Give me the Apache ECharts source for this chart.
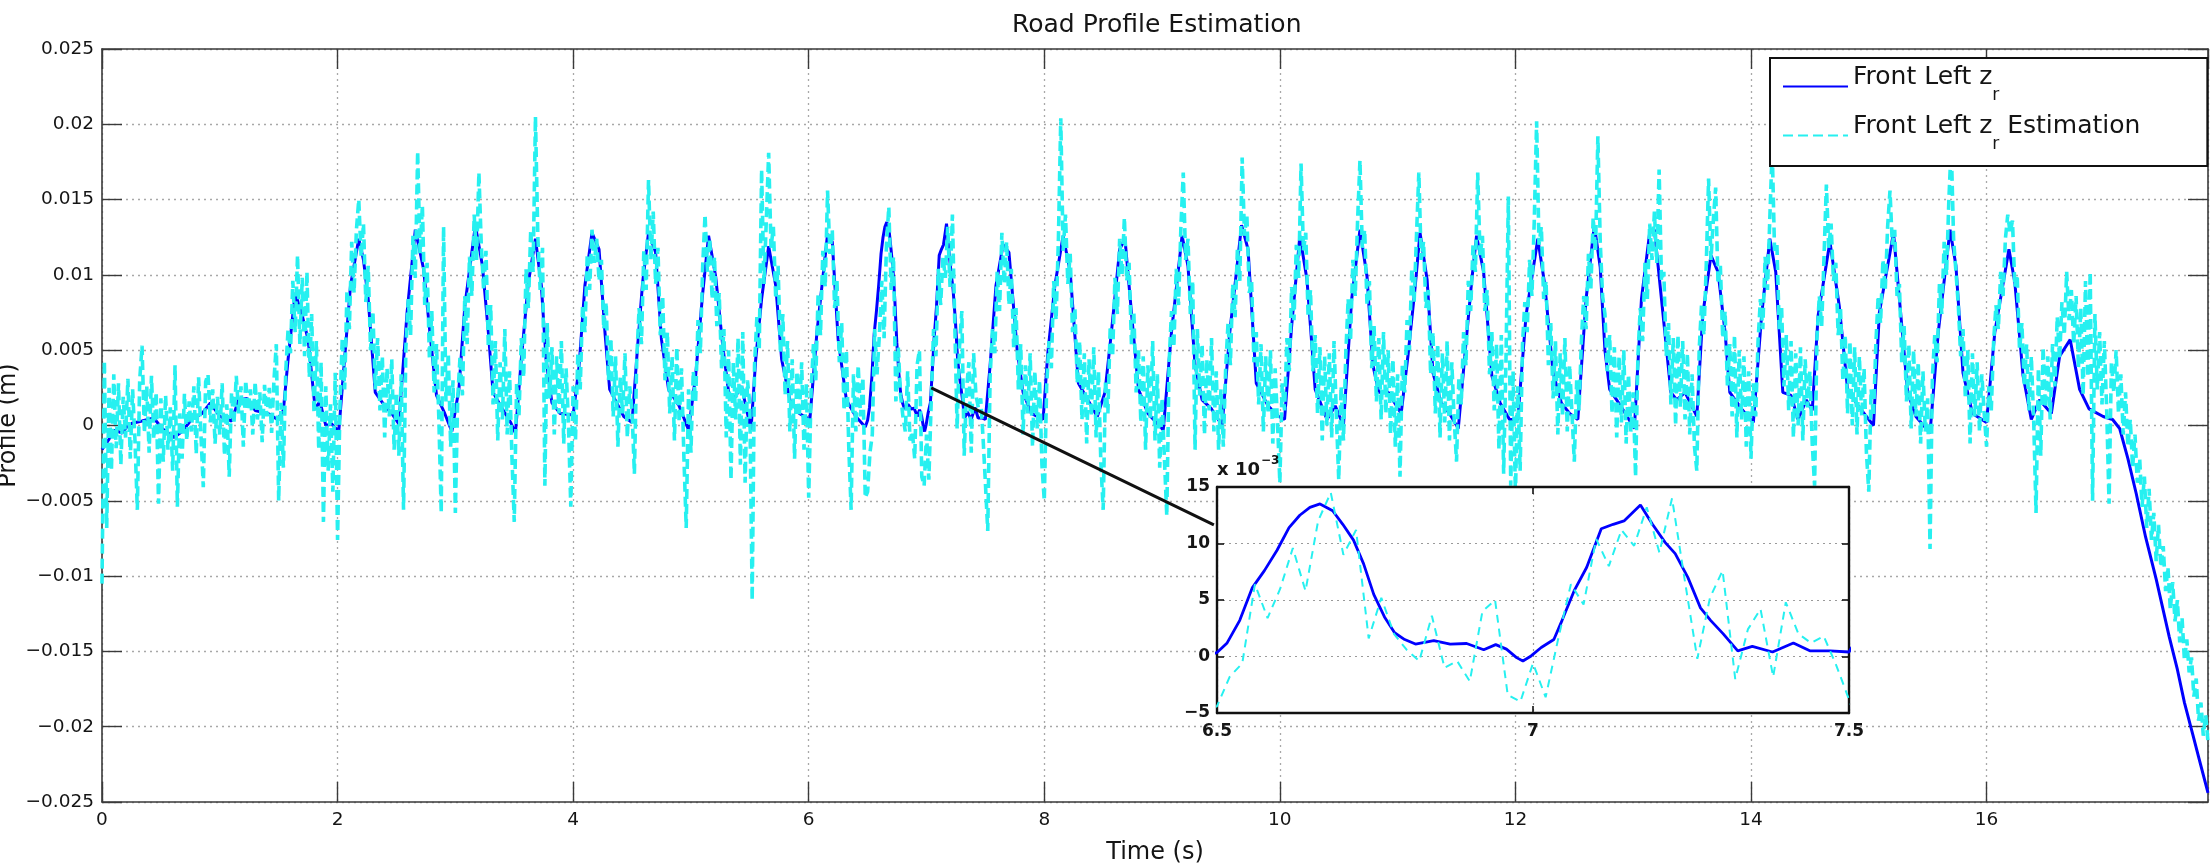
<!DOCTYPE html>
<html>
<head>
<meta charset="utf-8">
<script src="https://cdn.jsdelivr.net/npm/echarts@6/dist/echarts.min.js"></script>
<style>html,body{margin:0;padding:0;background:#fff}#c{width:2210px;height:867px}</style>
</head>
<body>
<div id="c"></div>
<script>
// ---------------- data ----------------
const chartTitle = 'Road Profile Estimation';
const xAxisTitle = 'Time (s)';
const yAxisTitle = 'Profile (m)';
const seriesNames = ['Front Left z_r', 'Front Left z_r Estimation'];

// true road profile: [time s, profile mm]
const trueProfileMm = [
[0.00,-1.6],[0.06,-0.9],[0.11,-0.3],[0.17,-0.5],[0.23,0.1],[0.34,0.3],[0.44,0.5],[0.51,-0.2],[0.61,-0.8],[0.68,-0.4],
[0.76,0.4],[0.85,0.8],[0.92,1.5],[1.00,0.6],[1.10,0.3],[1.16,1.7],[1.23,1.8],[1.30,1.0],[1.41,0.8],[1.49,0.4],
[1.54,1.0],[1.58,4.4],[1.64,8.8],[1.70,7.3],[1.75,5.7],[1.81,1.1],[1.85,1.6],[1.90,0.0],[1.95,0.1],[2.01,-0.4],
[2.05,3.5],[2.11,9.3],[2.18,12.4],[2.22,11.0],[2.26,8.4],[2.32,2.2],[2.40,1.3],[2.46,0.8],[2.52,0.1],[2.59,7.5],
[2.66,13.0],[2.73,10.4],[2.79,5.7],[2.84,2.0],[2.91,0.8],[2.97,-0.4],[3.03,2.4],[3.08,7.9],[3.17,13.3],[3.23,10.6],
[3.28,6.2],[3.32,2.2],[3.40,1.1],[3.47,0.2],[3.51,-0.5],[3.56,4.4],[3.62,9.5],[3.68,12.4],[3.73,9.3],[3.77,4.4],
[3.82,1.5],[3.89,0.8],[4.00,0.7],[4.05,3.9],[4.10,9.3],[4.16,12.8],[4.22,11.7],[4.27,6.2],[4.31,2.4],[4.43,0.6],
[4.50,0.2],[4.545,5.0],[4.59,9.5],[4.64,12.8],[4.70,11.5],[4.75,5.7],[4.81,2.4],[4.90,1.3],[4.98,-0.3],[5.04,3.3],
[5.10,8.8],[5.15,12.6],[5.21,9.9],[5.27,5.3],[5.32,2.2],[5.36,1.7],[5.43,2.6],[5.51,-0.3],[5.55,4.4],[5.60,8.4],
[5.66,11.9],[5.72,9.3],[5.77,4.4],[5.84,1.7],[5.92,0.8],[6.01,0.4],[6.07,6.2],[6.16,12.7],[6.20,12.2],[6.25,5.7],
[6.32,1.7],[6.40,0.6],[6.48,-0.1],
[6.500,0.35],[6.516,1.2],[6.536,3.2],[6.556,6.1],[6.575,7.6],[6.595,9.4],[6.614,11.4],[6.631,12.5],[6.647,13.2],[6.663,13.5],
[6.683,12.9],[6.699,11.7],[6.716,10.3],[6.732,8.2],[6.748,5.5],[6.765,3.5],[6.781,2.1],[6.797,1.5],[6.814,1.1],[6.843,1.4],
[6.869,1.1],[6.895,1.15],[6.922,0.6],[6.941,1.05],[6.958,0.65],[6.974,-0.1],[6.984,-0.4],[6.997,0.05],[7.013,0.8],[7.033,1.5],
[7.046,3.2],[7.065,5.8],[7.085,7.9],[7.108,11.3],[7.127,11.7],[7.144,12.0],[7.170,13.4],[7.189,11.7],[7.209,10.1],[7.225,9.1],
[7.245,7.0],[7.265,4.3],[7.281,3.2],[7.301,2.0],[7.324,0.5],[7.347,0.9],[7.379,0.4],[7.412,1.2],[7.438,0.5],[7.470,0.5],
[7.500,0.4],
[7.54,4.0],[7.59,9.3],[7.65,12.0],[7.70,11.5],[7.77,5.0],[7.82,2.2],[7.89,0.8],[7.99,0.4],[8.03,4.8],[8.09,9.3],
[8.16,12.6],[8.22,10.2],[8.29,2.8],[8.37,1.7],[8.45,0.6],[8.515,2.2],[8.57,6.2],[8.64,11.7],[8.685,12.4],[8.74,7.5],
[8.80,2.4],[8.88,0.8],[9.01,-0.3],[9.08,6.2],[9.17,12.6],[9.22,10.6],[9.28,4.0],[9.34,1.7],[9.42,1.1],[9.51,0.0],
[9.575,6.2],[9.675,13.3],[9.73,11.7],[9.80,2.8],[9.90,1.3],[9.99,0.6],[10.04,0.4],[10.10,6.6],[10.17,12.6],[10.23,9.7],
[10.30,2.4],[10.40,0.4],[10.47,1.3],[10.54,0.0],[10.61,8.4],[10.68,13.0],[10.74,9.9],[10.79,4.0],[10.84,2.2],[10.92,2.2],
[11.03,0.8],[11.09,4.8],[11.15,9.3],[11.19,12.8],[11.25,9.7],[11.30,3.5],[11.37,1.5],[11.44,0.8],[11.515,-0.2],[11.57,4.6],
[11.63,9.7],[11.67,12.6],[11.73,10.2],[11.80,3.3],[11.87,1.5],[11.95,0.4],[12.02,0.4],[12.09,7.3],[12.19,12.4],[12.25,9.3],
[12.32,3.5],[12.39,1.5],[12.46,0.8],[12.53,0.4],[12.60,8.4],[12.67,13.3],[12.72,10.5],[12.76,5.0],[12.80,2.4],[12.91,1.1],
[13.01,-0.2],[13.07,8.4],[13.14,12.8],[13.18,13.0],[13.24,8.4],[13.32,2.2],[13.37,1.7],[13.44,2.2],[13.54,0.6],[13.59,7.3],
[13.66,11.3],[13.72,10.2],[13.78,6.2],[13.82,2.2],[13.92,1.1],[14.02,0.2],[14.09,7.3],[14.16,12.4],[14.21,10.2],[14.27,2.2],
[14.34,2.0],[14.40,0.4],[14.47,1.7],[14.52,1.0],[14.57,7.3],[14.67,12.2],[14.75,7.9],[14.82,2.4],[14.91,1.3],[15.04,0.0],
[15.09,7.5],[15.21,12.8],[15.26,8.4],[15.33,2.2],[15.40,0.6],[15.52,-0.5],[15.59,6.2],[15.69,13.0],[15.74,10.6],[15.80,3.5],
[15.88,0.8],[16.00,0.2],[16.07,6.2],[16.19,11.7],[16.24,9.5],[16.31,3.3],[16.38,0.4],[16.45,1.7],[16.55,0.8],[16.62,4.6],
[16.71,5.7],[16.79,2.4],[16.87,1.1],[16.99,0.6],[17.07,0.4],[17.13,-0.2],[17.20,-2.2],[17.27,-4.5],[17.35,-7.4],[17.44,-10.2],
[17.55,-14.0],[17.62,-16.2],[17.68,-18.4],[17.75,-20.5],[17.80,-22.0],[17.88,-24.4]
];

// estimated profile in mm, one row per 0.5 s block, samples every 0.02 s
const estStepS = 0.02;
const estRowSpanS = 0.5;
const estimateRowsMm = [
[-10.5,4.3,-6.8,2.5,-3.0,3.4,-1.5,2.8,-2.6,1.9,-0.8,3.1,-2.2,2.4,-1.0,-5.6,3.0,5.3,-0.5,2.6,-1.8,3.3,-0.9,2.2,-5.2],
[1.8,-2.4,2.0,-1.6,1.2,-3.0,4.0,-5.4,0.8,-2.2,2.1,-1.0,1.6,-0.4,2.6,-1.9,3.2,-0.6,-4.1,2.9,3.4,0.2,2.4,-1.2,1.9],
[-0.6,2.8,-2.0,1.4,-3.4,2.2,0.1,3.3,0.8,2.6,-1.4,3.0,1.0,2.4,-0.6,2.9,0.4,2.2,-1.1,2.7,0.6,2.5,-0.5,3.0,5.4],
[-5.0,1.5,-2.8,3.6,6.4,4.8,9.6,6.2,11.3,5.4,9.8,4.6,10.2,3.2,7.4,0.8,5.6,-1.6,4.2,-6.4,2.6,-3.0,1.4,-4.4,3.5],
[-7.6,1.2,5.8,2.4,9.0,6.4,12.2,8.8,13.0,15.0,11.2,13.4,8.2,10.6,5.0,7.6,2.4,5.8,1.0,4.6,-0.8,3.8,0.6,4.4,-1.6],
[2.2,-2.0,3.4,-5.6,5.2,8.4,6.0,12.6,9.8,18.2,11.4,14.6,8.0,10.8,4.4,7.6,2.2,5.4,0.4,-5.8,13.2,1.6,4.8,-1.4,3.0],
[-5.8,1.8,4.6,2.0,8.6,5.4,11.2,8.6,14.0,11.0,16.8,12.0,9.0,11.6,5.2,8.0,1.4,5.6,-1.0,4.2,0.4,6.4,-0.6,3.6,-2.0],
[-6.4,2.8,0.6,5.8,3.2,10.4,7.8,13.0,10.2,20.5,12.6,9.0,11.8,-4.0,6.8,1.8,5.2,-0.6,4.6,0.8,5.6,-1.2,3.8,0.2,-5.4],
[2.6,-1.0,4.8,2.4,8.0,6.2,11.4,9.0,13.0,10.8,12.4,9.6,11.0,6.4,8.2,3.0,5.8,0.6,4.6,-1.4,3.2,0.8,4.8,-0.8,2.6],
[1.0,-3.2,4.4,7.8,5.4,11.6,9.0,16.3,11.0,14.2,9.4,11.8,6.0,8.6,3.0,6.2,0.8,4.6,-1.0,5.2,0.2,3.8,-2.0,-6.8,2.4],
[-1.8,3.6,1.6,7.0,4.8,10.6,14.0,10.2,12.4,8.4,11.2,6.6,8.8,3.8,6.4,-0.8,5.0,-3.6,4.2,0.4,5.8,-2.6,6.2,-3.8,3.0],
[1.4,-11.6,4.0,7.2,5.0,17.0,9.4,13.6,18.1,11.8,13.2,8.4,10.6,4.8,7.4,2.0,5.6,-0.4,4.4,-2.2,3.6,0.6,4.2,-1.6,2.8],
[-4.8,2.2,5.4,3.0,8.8,6.0,11.6,9.2,15.6,11.4,13.0,7.8,9.6,4.2,6.8,1.0,5.0,-1.4,-5.6,3.4,-0.4,4.0,0.6,3.2,-4.8],
[-4.4,-1.8,-0.6,6.4,3.4,6.0,9.6,5.8,12.0,14.5,9.0,11.2,1.6,5.2,2.0,0.6,-0.4,3.6,-1.0,-0.4,-2.2,4.0,5.0,-3.4,-4.0],
[-0.6,-3.6,1.6,6.4,4.6,10.4,8.0,11.2,9.8,13.2,9.2,14.0,6.8,-0.2,5.2,7.6,-2.0,2.4,4.2,-1.8,4.8,2.0,1.2,1.8,-0.8],
[-3.8,-7.0,3.2,6.4,4.8,10.2,7.6,12.8,9.4,12.2,8.0,10.4,5.2,7.8,2.4,5.4,-0.6,4.0,0.8,4.8,-1.4,3.6,-0.2,3.0,-2.6],
[-5.0,2.6,5.6,3.8,9.6,7.0,12.4,20.4,11.6,14.0,9.4,11.4,6.2,7.8,2.8,5.6,0.4,4.8,-1.2,4.4,0.6,5.2,-0.8,3.6,-2.4],
[-5.6,3.0,0.8,6.6,4.6,9.8,7.4,12.4,10.0,13.8,9.6,10.8,5.4,7.6,2.2,5.0,0.2,4.6,-1.6,4.0,0.4,5.6,-1.0,3.4,-2.8],
[1.8,-2.2,-6.0,4.2,7.6,5.2,10.4,8.0,13.2,16.8,11.0,12.4,7.4,9.6,-1.6,6.4,2.0,5.4,-0.6,4.4,1.0,5.8,-0.4,3.6,-1.6],
[2.4,-1.4,3.8,6.8,4.0,9.4,7.2,11.8,9.6,17.8,12.6,14.0,8.8,9.6,4.2,6.2,1.4,5.4,-0.4,4.6,0.8,5.0,-1.2,3.8,0.2],
[-3.8,2.8,1.0,5.8,3.6,9.2,7.0,12.0,9.8,17.4,11.6,12.8,7.2,9.0,3.6,6.0,0.8,5.2,-1.0,4.6,0.0,4.8,-0.8,5.6,0.6],
[-3.6,2.6,-1.0,4.8,8.4,5.6,11.0,8.6,13.6,17.6,11.8,13.0,8.0,9.6,3.8,6.6,1.6,5.8,0.4,6.2,0.8,5.0,-0.6,4.4,-1.4],
[3.4,-3.4,4.0,2.2,7.0,5.0,10.4,8.2,12.6,16.8,11.0,12.2,7.8,9.0,3.4,6.2,0.8,5.4,-0.8,4.8,0.2,5.6,-1.0,4.2,0.4],
[-2.4,3.2,1.4,6.2,4.0,9.6,7.6,12.0,10.2,16.8,11.2,12.6,7.6,9.0,3.4,6.2,1.0,5.4,-1.6,6.0,-3.2,4.4,15.2,-4.0,3.6],
[-4.6,2.6,-3.0,5.4,8.2,6.2,11.0,8.6,13.6,20.2,12.0,13.2,8.4,9.6,4.0,6.8,1.8,5.6,-0.6,4.8,0.6,5.8,-0.4,4.0,0.8],
[-2.4,3.0,1.0,5.6,8.6,6.4,11.4,9.0,13.8,11.6,19.2,12.2,8.6,7.4,3.6,6.0,0.8,5.2,-0.8,4.6,0.2,5.0,-1.2,3.4,-0.4],
[2.2,-3.4,4.6,7.8,5.6,10.8,8.4,13.4,11.0,14.2,10.8,17.0,9.6,10.2,4.6,6.8,1.4,5.8,0.0,6.0,1.2,5.6,0.4,4.8,-0.6],
[3.4,-1.4,-3.0,5.0,8.0,6.0,10.6,16.4,11.0,13.6,15.8,9.4,10.6,5.8,7.6,2.6,5.4,0.6,6.0,-0.8,5.0,0.4,4.6,-1.4,3.6],
[-2.2,2.8,0.6,5.6,8.4,6.4,11.2,9.0,13.8,18.4,11.6,12.0,6.4,7.8,2.6,6.0,1.0,5.6,-0.8,4.8,0.0,5.2,-1.0,4.4,1.2],
[3.6,-1.2,-4.0,5.8,8.6,6.6,11.2,16.0,11.8,13.4,9.6,10.8,6.0,7.8,3.0,6.0,0.8,5.6,0.0,5.2,-0.6,4.6,0.6,3.8,-1.8],
[-4.4,2.4,0.6,5.4,8.6,6.8,11.0,9.0,13.2,15.6,12.0,13.0,8.6,9.4,4.2,6.6,1.6,5.4,-0.2,5.0,0.6,4.2,-1.2,3.6,-0.4],
[1.8,-8.2,3.2,6.0,4.2,9.4,7.4,12.2,10.0,15.0,18.6,12.4,10.2,8.0,4.6,6.4,1.8,5.0,-1.2,4.8,0.6,4.2,-0.4,3.4,0.8],
[-1.4,2.6,1.0,5.6,8.0,6.4,10.2,8.6,12.4,14.0,12.8,13.6,9.2,10.0,5.0,6.8,2.6,5.4,1.0,4.6,0.4,-5.8,3.8,-2.0,5.2],
[1.2,4.6,0.4,5.4,2.6,7.2,4.4,8.2,6.0,10.2,7.0,9.0,5.4,8.6,3.8,7.8,2.0,9.6,3.2,10.2,-5.0,7.4,2.4,6.2,1.4],
[5.6,1.0,-5.2,4.2,2.2,5.0,0.8,3.4,-0.6,2.2,-1.4,0.4,-2.8,-0.6,-3.8,-2.2,-5.4,-3.4,-6.8,-4.2,-7.6,-5.8,-9.0,-6.6,-9.4],
[-8.0,-11.0,-9.4,-12.2,-10.4,-13.0,-11.6,-14.4,-12.8,-15.6,-14.2,-16.4,-15.4,-18.0,-16.8,-19.6,-18.4,-20.6,-19.2,-21.0]
];

// annotation line joining the zoomed spot to the inset: [time s, profile m]
const zoomConnector = [[7.04, 0.0025], [9.44, -0.0066]];

// axis ranges / ticks
const mainX = { min: 0, max: 17.88, step: 2 };
const mainY = { min: -0.025, max: 0.025, step: 0.005 };
const insetX = { min: 6.5, max: 7.5, step: 0.5 };
const insetY = { min: -5, max: 15, step: 5 };

// ---------------- build ----------------
const truePairsMm = trueProfileMm.map(p => [p[0], p[1]]);
const truePairsM = trueProfileMm.map(p => [p[0], p[1] / 1000]);
const estPairsMm = [];
estimateRowsMm.forEach((row, r) => row.forEach((v, i) => {
  estPairsMm.push([+(r * estRowSpanS + i * estStepS).toFixed(3), v]);
}));
const estPairsM = estPairsMm.map(p => [p[0], p[1] / 1000]);

const FONT = 'DejaVu Sans';
const AX = '#3a3a3a';
const TXT = '#151515';
const BLUE = '#0000ff';
const CYAN = '#26f0f0';
const minus = s => String(s).replace('-', '\u2212');

function mainAxisCommon(extra) {
  return Object.assign({
    type: 'value', gridIndex: 0,
    axisLine: { show: true, onZero: false, lineStyle: { color: AX, width: 1.6 } },
    axisTick: { show: true, inside: true, length: 20, lineStyle: { color: AX, width: 1.4 } },
    splitLine: { show: false },
    axisLabel: { show: false },
    z: 1
  }, extra);
}
function insetAxisCommon(extra) {
  return Object.assign({
    type: 'value', gridIndex: 1,
    axisLine: { show: true, onZero: false, lineStyle: { color: '#111', width: 2.4 } },
    axisTick: { show: true, inside: true, length: 7, lineStyle: { color: '#111', width: 1.6 } },
    splitLine: { show: false },
    axisLabel: { show: false },
    z: 11
  }, extra);
}
const dotted = { type: [2, 4], color: '#a8a8a8', width: 1.3 };

const option = {
  animation: false,
  backgroundColor: '#ffffff',
  title: {
    text: chartTitle, left: 1012, top: 13, padding: 0,
    textStyle: { fontFamily: FONT, fontSize: 25, fontWeight: 'normal', color: TXT }
  },
  legend: {
    data: seriesNames, orient: 'vertical', left: 1770, top: 58,
    padding: [7, 67, 9, 12], itemGap: 6, itemWidth: 65, itemHeight: 44,
    backgroundColor: '#ffffff', borderColor: '#111', borderWidth: 2, borderRadius: 0,
    selectedMode: false, z: 20,
    itemStyle: { opacity: 0, color: 'rgba(0,0,0,0)', borderWidth: 0 },
    lineStyle: { opacity: 1 },
    formatter: n => n === seriesNames[0] ? '{t|Front Left z}{s|r}' : '{t|Front Left z}{s|r}{t| Estimation}',
    textStyle: {
      color: TXT,
      rich: {
        t: { fontFamily: FONT, fontSize: 25, lineHeight: 26, padding: [0, 0, 18, 0], color: TXT },
        s: { fontFamily: FONT, fontSize: 17, lineHeight: 20, padding: [18, 0, 0, 0], color: TXT }
      }
    }
  },
  grid: [
    { left: 102, top: 49, width: 2106, height: 753, show: false, containLabel: false, outerBoundsMode: 'none' },
    { left: 1217, top: 487, width: 632, height: 226, show: true, backgroundColor: '#ffffff', borderWidth: 0, z: 10, containLabel: false, outerBoundsMode: 'none' }
  ],
  xAxis: [
    mainAxisCommon({
      position: 'bottom', min: mainX.min, max: mainX.max, interval: mainX.step,
      name: xAxisTitle, nameLocation: 'middle', nameGap: 39, nameMoveOverlap: false,
      nameTextStyle: { fontFamily: FONT, fontSize: 24, color: TXT },
      axisLabel: {
        show: true, margin: 9, fontFamily: FONT, fontSize: 18.5, color: TXT, showMaxLabel: false,
        formatter: v => (Math.abs(v / mainX.step - Math.round(v / mainX.step)) < 1e-6) ? String(Math.round(v)) : ''
      },
      splitLine: { show: true, lineStyle: dotted }
    }),
    mainAxisCommon({ position: 'top', min: mainX.min, max: mainX.max, interval: mainX.step }),
    insetAxisCommon({
      position: 'bottom', min: insetX.min, max: insetX.max, interval: insetX.step,
      axisLabel: { show: true, margin: 10, fontFamily: FONT, fontSize: 17, fontWeight: 'bold', color: TXT, formatter: v => String(v) },
      splitLine: { show: true, lineStyle: { type: [2, 4], color: '#9a9a9a', width: 1.2 } }
    }),
    insetAxisCommon({ position: 'top', min: insetX.min, max: insetX.max, interval: insetX.step })
  ],
  yAxis: [
    mainAxisCommon({
      position: 'left', min: mainY.min, max: mainY.max, interval: mainY.step,
      name: yAxisTitle, nameLocation: 'middle', nameGap: 81, nameRotate: 90, nameMoveOverlap: false,
      nameTextStyle: { fontFamily: FONT, fontSize: 24, color: TXT },
      axisLabel: {
        show: true, margin: 8, fontFamily: FONT, fontSize: 18.5, color: TXT,
        formatter: v => { const r = Math.round(v * 1000) / 1000; return r === 0 ? '0' : minus(r); }
      },
      splitLine: { show: true, lineStyle: dotted }
    }),
    mainAxisCommon({ position: 'right', min: mainY.min, max: mainY.max, interval: mainY.step }),
    insetAxisCommon({
      position: 'left', min: insetY.min, max: insetY.max, interval: insetY.step,
      name: '{a|x 10}{b|\u22123}', nameLocation: 'end', nameGap: 8,
      nameTextStyle: {
        align: 'left', verticalAlign: 'bottom',
        rich: {
          a: { fontFamily: FONT, fontSize: 18, fontWeight: 'bold', color: TXT, padding: [6, 0, 0, 0] },
          b: { fontFamily: FONT, fontSize: 12, fontWeight: 'bold', color: TXT, padding: [0, 0, 12, 1] }
        }
      },
      axisLabel: { show: true, margin: 7, fontFamily: FONT, fontSize: 17, fontWeight: 'bold', color: TXT, formatter: v => minus(v) },
      splitLine: { show: true, lineStyle: { type: [2, 4], color: '#9a9a9a', width: 1.2 } }
    }),
    insetAxisCommon({ position: 'right', min: insetY.min, max: insetY.max, interval: insetY.step })
  ],
  series: [
    {
      name: seriesNames[0], type: 'line', xAxisIndex: 0, yAxisIndex: 0, data: truePairsM,
      symbol: 'none', silent: true, z: 2,
      lineStyle: { color: BLUE, width: 3 }, itemStyle: { color: BLUE }
    },
    {
      name: seriesNames[1], type: 'line', xAxisIndex: 0, yAxisIndex: 0, data: estPairsM,
      symbol: 'none', silent: true, z: 3,
      lineStyle: { color: CYAN, width: 3.6, type: [10, 5] }, itemStyle: { color: CYAN }
    },
    {
      name: 'zoom connector', type: 'line', xAxisIndex: 0, yAxisIndex: 0, data: zoomConnector,
      symbol: 'none', silent: true, z: 4,
      lineStyle: { color: '#111', width: 3 }
    },
    {
      name: seriesNames[0], type: 'line', xAxisIndex: 2, yAxisIndex: 2, data: truePairsMm,
      symbol: 'none', silent: true, z: 12, clip: true,
      lineStyle: { color: BLUE, width: 2.8 }, itemStyle: { color: BLUE }
    },
    {
      name: seriesNames[1], type: 'line', xAxisIndex: 2, yAxisIndex: 2, data: estPairsMm,
      symbol: 'none', silent: true, z: 13, clip: true,
      lineStyle: { color: CYAN, width: 2, type: [8, 6] }, itemStyle: { color: CYAN }
    }
  ]
};

const chart = echarts.init(document.getElementById('c'), null, { renderer: 'canvas', width: 2210, height: 867 });
chart.setOption(option);
</script>
</body>
</html>
